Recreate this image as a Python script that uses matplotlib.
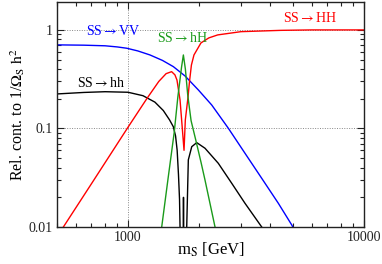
import matplotlib
matplotlib.use("Agg")
import matplotlib.pyplot as plt
from matplotlib.ticker import FixedLocator, NullFormatter, LogLocator

plt.rcParams['font.family'] = ['Liberation Serif', 'DejaVu Serif']
plt.rcParams['mathtext.fontset'] = 'stix'

# SS -> VV (blue)
m_vv = [500, 650, 800, 900, 987, 1100, 1239, 1400, 1556, 1744, 1986, 2263, 2661, 3131, 3686, 4335, 4939, 5500]
y_vv = [0.705, 0.70, 0.69, 0.672, 0.652, 0.612, 0.557, 0.49, 0.424, 0.341, 0.246, 0.173, 0.1005,
        0.056, 0.0312, 0.0174, 0.0105, 0.0065]

# SS -> hh (black)
m_hh = [500, 650, 800, 1000, 1157, 1300, 1411, 1500, 1556, 1590, 1615, 1636, 1653, 1661, 1675,
        1712, 1718, 1724, 1740, 1773, 1801, 1862, 1955, 2119, 2413, 2750, 3131, 3686, 4000]
y_hh = [0.224, 0.232, 0.236, 0.233, 0.215, 0.185, 0.152, 0.122, 0.104, 0.084, 0.06, 0.034, 0.019,
        0.01, 0.003, 0.003, 0.02, 0.003, 0.003, 0.01, 0.048, 0.0653, 0.0718, 0.063, 0.0443, 0.0278,
        0.0174, 0.01, 0.008]

# SS -> HH (red)
m_HH = [500, 532, 700, 1000, 1200, 1350, 1450, 1530, 1580, 1612, 1661, 1694, 1727,
        1749, 1796, 1822, 1856, 1903, 2037, 2200, 2400, 3010, 4450, 6000, 10000]
y_HH = [0.007, 0.01, 0.0275, 0.103, 0.20, 0.30, 0.36, 0.377, 0.35, 0.31, 0.195, 0.108, 0.06,
        0.122, 0.209, 0.30, 0.44, 0.557, 0.738, 0.83, 0.89, 0.96, 0.99, 1.0, 1.0]

# SS -> hH (green)
m_hH = [1350, 1389, 1477, 1570, 1626, 1686, 1716, 1750, 1790, 1850, 1940, 2040, 2119, 2337, 2450]
y_hH = [0.007, 0.01, 0.0307, 0.092, 0.209, 0.421, 0.557, 0.40, 0.22, 0.12, 0.075, 0.045, 0.030, 0.01, 0.008]

x_ticks = [1000, 10000]
x_ticklabels = ["1000", "10000"]
y_ticks = [0.01, 0.1, 1]
y_ticklabels = ["0.01", "0.1", "1"]

labels = [r"SS$\rightarrow$VV", r"SS$\rightarrow$hh", r"SS$\rightarrow$hH", r"SS$\rightarrow$HH"]
label_colors = ['#0000ff', 'black', '#1a9a1a', '#ff0000']

W, H = 382, 264
fig = plt.figure(figsize=(W / 100, H / 100), dpi=100)
ax = fig.add_axes([57 / W, 1 - 227 / H, 307 / W, 225 / H])
ax.set_xscale('log')
ax.set_yscale('log')
ax.set_xlim(500, 10000)
ax.set_ylim(0.01, 1.92)

lw = 1.0
ax.plot(m_vv, y_vv, color=label_colors[0], lw=lw)
ax.plot(m_hh, y_hh, color=label_colors[1], lw=lw)
ax.plot(m_HH, y_HH, color=label_colors[3], lw=lw)
ax.plot(m_hH, y_hH, color=label_colors[2], lw=lw)

ax.axvline(x_ticks[0], color='#888888', lw=0.7, ls=(0, (1, 1.5)), zorder=0)
for yv in y_ticks[1:]:
    ax.axhline(yv, color='#888888', lw=0.7, ls=(0, (1, 1.5)), zorder=0)

ax.xaxis.set_major_locator(FixedLocator(x_ticks))
ax.set_xticklabels(x_ticklabels)
ax.yaxis.set_major_locator(FixedLocator(y_ticks))
ax.set_yticklabels(y_ticklabels)
ax.xaxis.set_minor_locator(LogLocator(base=10, subs=range(2, 10)))
ax.yaxis.set_minor_locator(LogLocator(base=10, subs=range(2, 10)))
ax.xaxis.set_minor_formatter(NullFormatter())
ax.yaxis.set_minor_formatter(NullFormatter())
ax.tick_params(which='both', direction='in', top=True, right=True, labelsize=10, width=0.8,
               colors='#222222')
ax.tick_params(which='major', length=5)
ax.tick_params(which='minor', length=3)
ax.tick_params(axis='x', pad=3)
ax.tick_params(axis='y', pad=3)
for s in ax.spines.values():
    s.set_linewidth(1.0)
    s.set_color('#222222')

fig.text(211 / W, 1 - 255 / H, r"m$_\mathrm{S}$ [GeV]", fontsize=12, ha='center', va='baseline')
fig.text(18 / W, 1 - 114 / H, r"Rel. cont. to 1/$\mathrm{\Omega_S\ h^2}$", fontsize=11.5,
         rotation=90, ha='center', va='center')

label_pos = [(113, 35), (101, 87), (182, 42), (310, 22)]
for txt, col, (px, py) in zip(labels, label_colors, label_pos):
    fig.text(px / W, 1 - py / H, txt, color=col, fontsize=10, ha='center', va='baseline')

fig.savefig("out.png", dpi=100)
